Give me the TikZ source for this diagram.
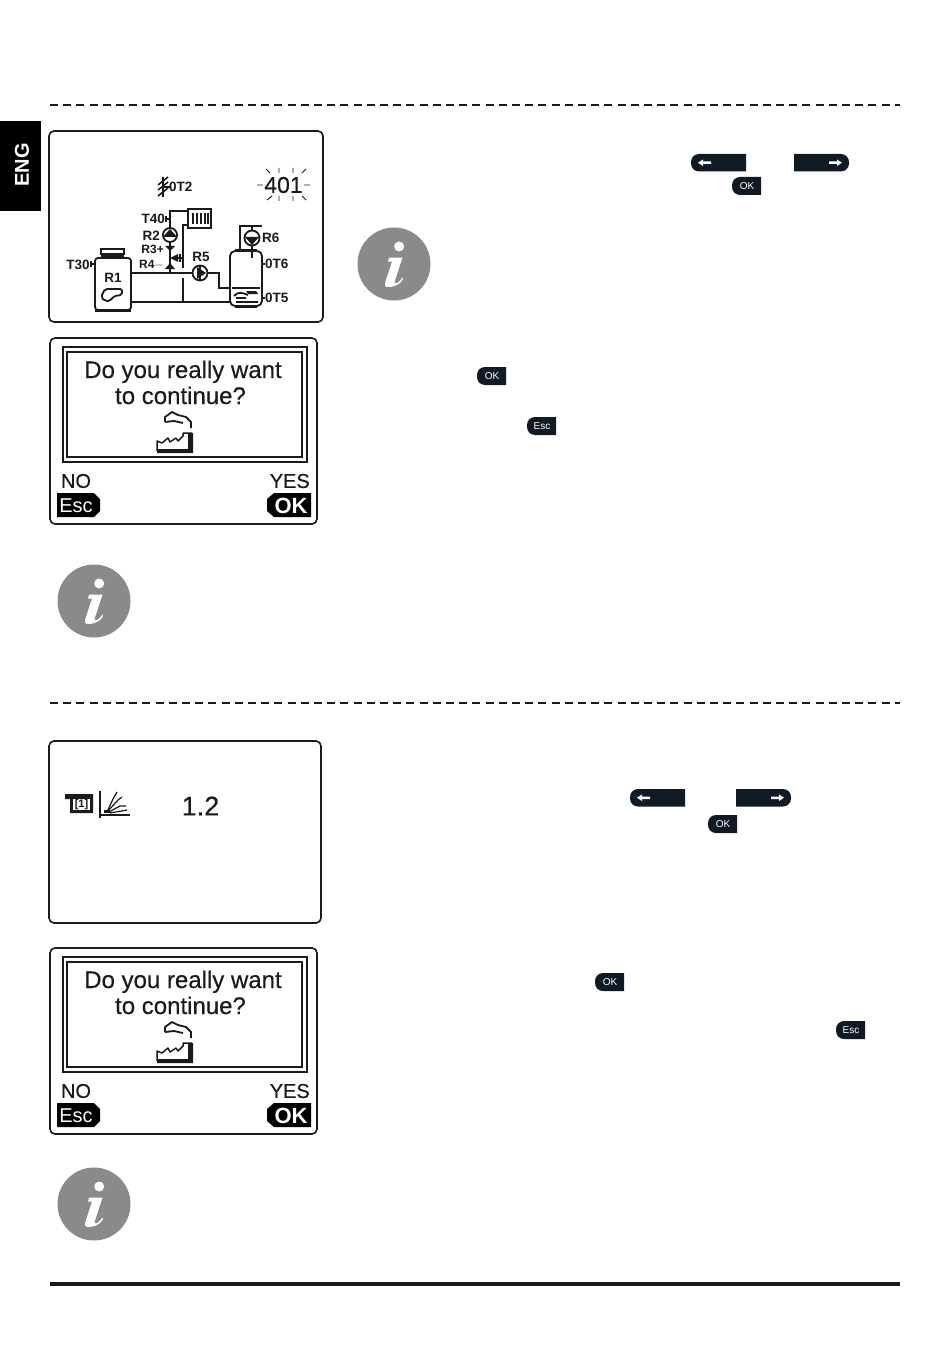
\documentclass[tikz,border=0pt]{standalone}
\usepackage{fontspec}
\setmainfont{Liberation Sans}
\newfontfamily\lcdfont[FakeBold=0.35]{Liberation Sans}
\newcommand{\fsz}[1]{\fontsize{#1}{#1}\selectfont}
\definecolor{btn}{HTML}{0F1A24}
\definecolor{lcd}{HTML}{1A1A1A}
\definecolor{infogray}{HTML}{8A8A8A}
\tikzset{
  panel/.style={draw=lcd,line width=1.6pt,rounded corners=5pt,fill=white},
  pipe/.style={draw=lcd,line width=1.8pt},
  thin pipe/.style={draw=lcd,line width=1.2pt},
  lab/.style={font=\bfseries\fsz{13.5},text=lcd,inner sep=0pt},
  tightlab/.style={font=\bfseries\fsz{12},text=lcd,inner sep=0pt},
  txt/.style={font=\lcdfont\fsz{24},text=lcd,inner sep=0pt,anchor=base},
  small/.style={font=\lcdfont\fsz{20},text=lcd,inner sep=0pt},
  rev/.style={font=\bfseries\fsz{22},text=white,inner sep=0pt},
  btnlabel/.style={font=\fsz{10},text=white,inner sep=0pt},
  sep/.style={draw=lcd,line width=1.3pt,dash pattern=on 8pt off 5.2pt},
  leftbtn/.pic={
    \fill[btn] (55,0) [rounded corners=8pt] -- (0,0) -- (0,17.5) [sharp corners] -- (55,17.5) -- cycle;
    \fill[white] (7,8.7) -- (12,5.5) -- (12,7.5) -- (20,7.5) -- (20,10) -- (12,10) -- (12,12) -- cycle;
  },
  rightbtn/.pic={
    \fill[btn] (0,0) [rounded corners=8pt] -- (55,0) -- (55,17.5) [sharp corners] -- (0,17.5) -- cycle;
    \fill[white] (48,8.7) -- (43,5.5) -- (43,7.5) -- (35,7.5) -- (35,10) -- (43,10) -- (43,12) -- cycle;
  },
  keybtn/.pic={
    \fill[btn] (29,0) [rounded corners=8pt] -- (0,0) -- (0,18) [sharp corners] -- (29,18) -- cycle;
    \node[btnlabel] (-t) at (15,9) {#1};
  },
  infoicon/.pic={
    \fill[infogray] (0,0) circle[radius=36.5];
    \fill[white] (5.2,-17.5) circle[radius=5];
    \fill[white] (-5,-6.5) -- (8.5,-6.5) -- (0.5,18) .. controls (1,21) and (5,19) .. (8.5,13.5) -- (9,15) .. controls (5,22) and (-1,23) .. (-7,23) .. controls (-9,23) and (-9.5,21) .. (-9,19) -- (-2,-2.5) -- (-6,-2.5) -- cycle;
  },
  dialog/.pic={
    \draw[panel] (0,0) rectangle (267,186);
    \draw[draw=lcd,line width=2.4pt] (13,9) rectangle (257,124);
    \draw[draw=lcd,line width=1.4pt] (17,14) rectangle (252,119);
    \node[txt] (-a) at (133,40) {Do you really want};
    \node[txt] (-b) at (130.5,66) {to continue?};
    % smoke
    \draw[lcd,line width=1.8pt,line join=round] (115,84) -- (115,79) -- (122,74) -- (128,77) -- (136,79) -- (141,84) -- (141,90) (115,84) -- (124,83) -- (133,85);
    % factory
    \fill[lcd] (138,95) -- (143,95) -- (143,115) -- (107,115) -- (107,111) -- (138,111) -- cycle;
    \draw[lcd,line width=1.5pt,line join=round] (107,113) -- (107,103) -- (112,105) -- (118,100) -- (120,104) -- (126,100) -- (128,103) -- (133,98) -- (133,95) -- (142,95);
    \node[small] (-n) at (26,143) {NO};
    \node[small,anchor=east] (-y) at (260,143) {YES};
    \fill[black] (7,155) -- (44,155) -- (50,161) -- (50,173) -- (44,179) -- (7,179) -- cycle;
    \fill[black] (261,155) -- (224,155) -- (217,161) -- (217,173) -- (224,179) -- (261,179) -- cycle;
    \node[font=\fsz{20},text=white,inner sep=0pt] (-e) at (26,167.5) {Esc};
    \node[rev] (-k) at (241,167.5) {OK};
  }
}
\begin{document}
\begin{tikzpicture}[x=1pt,y=-1pt]
\useasboundingbox (0,0) rectangle (950,1348);
% side tab and rules
\fill[black] (0,121) rectangle (41,211);
\node[rotate=90,font=\bfseries\fsz{20},text=white,inner sep=0pt] (tab) at (22,165) {ENG};
\draw[sep] (50,105) -- (900,105);
\draw[sep] (50,703) -- (900,703);
\draw[draw=lcd,line width=4pt] (50,1284) -- (900,1284);

% --- first panel: hydraulic scheme
\draw[panel] (49,131) rectangle (323,322);
\node[font=\lcdfont\fsz{23},text=lcd,inner sep=0pt] (code) at (283.5,185) {401};
\draw[lcd,line width=.9pt] (257,185) -- (263,185) (304,185) -- (310,185)
  (266,169) -- (270,173) (279,168) -- (279,173) (293,168) -- (293,173) (306,169) -- (302,173)
  (267,200) -- (272,196) (279,196) -- (279,201) (293,196) -- (293,201) (302,196) -- (306,200);
% sensor T2
\node[lab,anchor=west] (t2) at (169,187) {0T2};
\draw[lcd,line width=1.6pt] (163,177) -- (163,197) (158,185) -- (168,177) (158,190) -- (168,182) (158,196) -- (168,188);
\draw[lcd,line width=1.2pt] (163,187) -- (170,187);
% boiler
\draw[pipe,fill=white,rounded corners=3pt] (95,258) rectangle (131,310);
\draw[pipe] (101,249) rectangle (124,254);
\draw[lcd,line width=2.4pt] (101,256) -- (124,256) (95,311) -- (131,311);
\node[lab] (r1) at (113,278) {R1};
\draw[pipe,rounded corners=2pt] (105,289) -- (122,289) -- (122,295) -- (114,296) -- (110,301) -- (105,301) -- (101,297) -- cycle;
\node[lab] (t3) at (78,264.5) {T30};
\draw[thin pipe] (90,264) -- (95,264) (91,261) -- (91,267);
% pipes
\draw[pipe] (131,273) -- (192,273) (208,273) -- (219,273) -- (219,288) -- (232,288);
\draw[pipe] (131,302) -- (231,302);
\draw[pipe] (183,302) -- (183,278);
\draw[pipe] (183,268) -- (183,225) -- (188,225);
\draw[pipe] (188,211) -- (170,211) -- (170,273);
% radiator
\draw[pipe,line width=2.4pt] (188,209) rectangle (211,228);
\foreach \x in {192.5,196.5,200.5,204.5,207.5}{\draw[lcd,line width=2pt] (\x,213) -- (\x,224);}
\node[lab,anchor=east] (t4) at (165,219) {T40};
\draw[thin pipe] (165,219) -- (170,219) (166,216) -- (166,222);
% pump R2
\node[lab,anchor=east] (r2) at (160,235.5) {R2};
\draw[pipe,fill=white] (170,235) circle[radius=7];
\fill[lcd] (163,237) -- (177,237) -- (170,229) -- cycle;
% valve
\node[tightlab,anchor=east] (r3) at (164,249) {R3+};
\node[tightlab,anchor=east] (r4) at (164,265) {R4$-$};
\fill[lcd] (165,246) -- (175,246) -- (170,251) -- cycle;
\fill[lcd] (165,269) -- (175,269) -- (170,263) -- cycle;
\fill[lcd] (170,258) -- (178,254) -- (178,262) -- cycle;
\draw[lcd,line width=1.2pt] (178,258) -- (183,258) (180,254) -- (180,262);
% pump R5
\node[lab] (r5) at (201,257) {R5};
\draw[pipe,fill=white] (200,273) circle[radius=7.5];
\fill[lcd] (197,267) -- (197,279) -- (206,273) -- cycle;
\draw[pipe] (200,266) -- (200,281);
% tank
\draw[pipe,fill=white,rounded corners=5pt] (230,251) rectangle (262,306);
\draw[lcd,line width=2.4pt] (235,307) -- (257,307) (235,250) -- (257,250);
\draw[pipe] (240,250) -- (240,226) -- (262,226);
\draw[pipe] (252,226) -- (252,258);
\node[lab,anchor=west] (r6) at (262,238) {R6};
\draw[pipe,fill=white] (252,238) circle[radius=7.5];
\fill[lcd] (245,237) -- (259,237) -- (252,245) -- cycle;
\node[lab,anchor=west] (t6) at (265,264) {0T6};
\draw[thin pipe] (261,264) -- (265,264);
\node[lab,anchor=west] (t5) at (265,298) {0T5};
\draw[thin pipe] (261,298) -- (265,298);
\draw[pipe] (232,288) -- (260,288);
\draw[pipe] (234,296) .. controls (238,291) and (243,293) .. (248,295) (236,298) -- (246,298) (236,302) -- (258,302);
\fill[lcd] (246,291) -- (256,291) -- (258,294) -- (248,294) -- cycle;

% --- second panel
\pic (d1) at (50,338) {dialog};

% --- third panel
\draw[panel] (49,741) rectangle (321,923);
\node[font=\lcdfont\fsz{27},text=lcd,inner sep=0pt] (val) at (200.5,806) {1.2};
\fill[lcd] (65,794) -- (93,794) -- (93,813) -- (70,813) -- (70,799) -- (65,799) -- cycle;
\fill[white] (73,799) rectangle (90,810);
\node[font=\bfseries\fsz{11},text=lcd,inner sep=0pt] (h1) at (81.5,804.5) {[1]};
\draw[lcd,line width=1.2pt] (100,791) -- (100,818) (100,815) -- (130,815);
\draw[lcd,line width=1.2pt] (107,812) -- (113,799) -- (117,792) (108,811) -- (118,800) -- (122,797) (109,812) -- (120,806) -- (126,806) (110,813) -- (127,810);
\fill[lcd] (104,810) rectangle (110,813);

% --- fourth panel
\pic (d2) at (50,948) {dialog};

% info icons
\pic (i1) at (394,264) {infoicon};
\pic (i2) at (94,601) {infoicon};
\pic (i3) at (94,1204) {infoicon};

% keys
\pic (b1) at (691,154) {leftbtn};
\pic (b2) at (794,154) {rightbtn};
\pic (b3) at (732,177) {keybtn=OK};
\pic (b4) at (477,367) {keybtn=OK};
\pic (b5) at (527,417) {keybtn=Esc};
\pic (b6) at (630,789) {leftbtn};
\pic (b7) at (736,789) {rightbtn};
\pic (b8) at (708,815) {keybtn=OK};
\pic (b9) at (595,973) {keybtn=OK};
\pic (b10) at (836,1021) {keybtn=Esc};
\end{tikzpicture}
\end{document}
